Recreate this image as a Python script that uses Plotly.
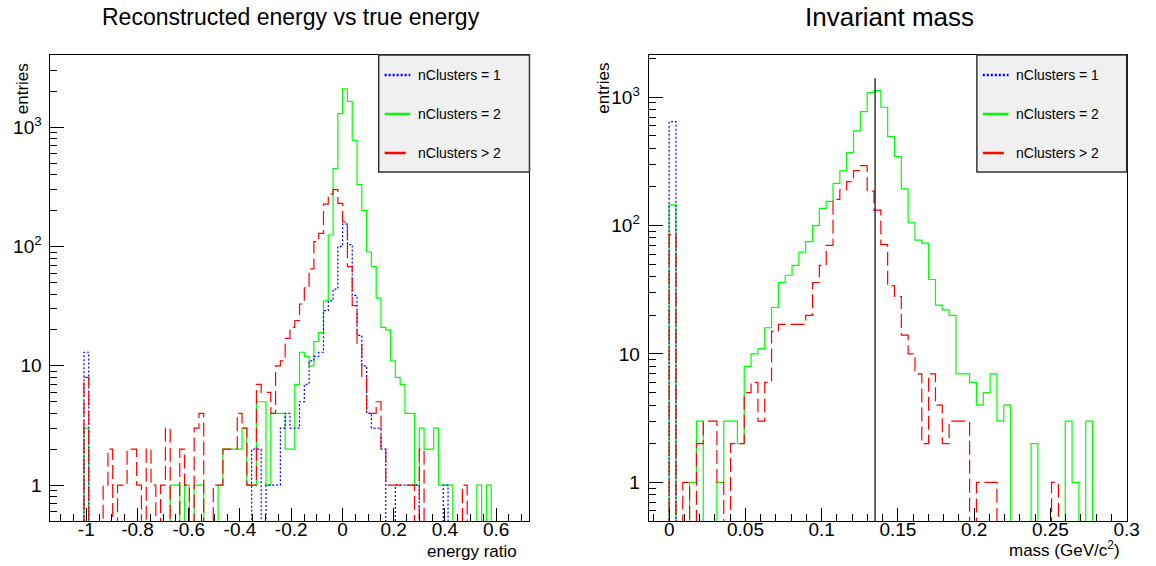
import plotly.graph_objects as go

W, H = 1156, 566

# ---------------- data ----------------
# Energy ratio (reconstructed / true - 1): 100 bins on [-1.14, 0.73]
ENERGY_RANGE = (-1.14, 0.73)
energy_n1 = [0, 0, 0, 0, 0, 0, 0, 13, 0, 0,
             0, 0, 0, 0, 0, 0, 0, 0, 0, 0,
             0, 0, 0, 0, 0, 0, 0, 0, 0, 0,
             0, 0, 0, 0, 0, 0, 0, 0, 0, 0,
             0, 0, 2, 2, 0, 1, 1, 1, 3, 4,
             3, 3, 5, 7, 11, 12, 13, 29, 35, 44,
             100, 154, 104, 39, 18, 10, 4, 3, 3, 2,
             0, 0, 1, 1, 1, 1, 1, 0, 0, 0,
             0, 0, 1, 0, 0, 0, 0, 0, 0, 0,
             0, 0, 0, 0, 0, 0, 0, 0, 0, 0]
energy_n2 = [0, 0, 0, 0, 0, 0, 0, 3, 0, 0,
             0, 0, 0, 0, 0, 0, 0, 0, 0, 0,
             0, 0, 0, 0, 0, 1, 1, 0, 1, 0,
             1, 1, 0, 0, 0, 1, 2, 2, 2, 2,
             3, 1, 1, 5, 5, 1, 4, 4, 4, 2,
             2, 7, 13, 12, 10, 16, 19, 35, 125, 450,
             1300, 2100, 1650, 775, 330, 200, 90, 68, 37, 21,
             20, 11, 8, 7, 4, 4, 1, 3, 2, 2,
             3, 1, 1, 1, 0, 0, 0, 0, 0, 1,
             0, 1, 0, 0, 0, 0, 0, 0, 0, 0]
energy_n3 = [0, 0, 0, 0, 0, 0, 0, 8, 0, 0,
             0, 1, 2, 0, 1, 1, 2, 2, 1, 0,
             2, 1, 0, 1, 3, 0, 0, 2, 1, 0,
             3, 4, 0, 0, 1, 1, 2, 2, 2, 4,
             3, 1, 1, 7, 6, 6, 4, 10, 11, 17,
             21, 24, 33, 45, 65, 110, 129, 227, 275, 300,
             230, 161, 68, 32, 15, 8, 4, 4, 5, 2,
             1, 1, 1, 1, 1, 1, 0, 2, 0, 0,
             0, 0, 0, 0, 0, 0, 1, 0, 0, 0,
             0, 0, 0, 0, 0, 0, 0, 0, 0, 0]

# Invariant mass (GeV/c^2): 70 bins on [-0.0135, 0.3]
MASS_RANGE = (-0.0135, 0.3)
mass_n1 = [0, 0, 0, 645, 0, 0, 0, 0, 0, 0,
           0, 0, 0, 0, 0, 0, 0, 0, 0, 0,
           0, 0, 0, 0, 0, 0, 0, 0, 0, 0,
           0, 0, 0, 0, 0, 0, 0, 0, 0, 0,
           0, 0, 0, 0, 0, 0, 0, 0, 0, 0,
           0, 0, 0, 0, 0, 0, 0, 0, 0, 0,
           0, 0, 0, 0, 0, 0, 0, 0, 0, 0]
mass_n2 = [0, 0, 0, 145, 0, 0, 1, 3, 0, 0,
           1, 3, 3, 2, 8, 10, 11, 16, 23, 36,
           41, 49, 62, 75, 100, 136, 154, 213, 266, 370,
           546, 771, 1084, 1123, 834, 493, 344, 193, 105, 77,
           73, 38, 24, 22, 20, 7, 7, 6, 4, 5,
           7, 3, 4, 0, 0, 0, 2, 0, 0, 0,
           0, 3, 1, 0, 3, 0, 0, 0, 0, 0]
mass_n3 = [0, 0, 0, 85, 0, 1, 0, 2, 3, 3,
           1, 0, 2, 2, 5, 6, 3, 6, 15, 17,
           17, 17, 17, 20, 36, 49, 70, 160, 190, 220,
           268, 293, 185, 132, 71, 34, 28, 14, 10, 7,
           2, 7, 4, 2, 3, 3, 3, 0, 1, 1,
           1, 0, 0, 0, 0, 0, 0, 0, 0, 1,
           0, 0, 0, 0, 0, 0, 0, 0, 0, 0]

PI0_MASS = 0.135
PI0_LINE_Y = [0.5, 1400]

ENERGY_TICKS = [-1, -0.8, -0.6, -0.4, -0.2, 0, 0.2, 0.4, 0.6]
ENERGY_TICK_TEXT = ["-1", "-0.8", "-0.6", "-0.4", "-0.2", "0", "0.2", "0.4", "0.6"]
MASS_TICKS = [0, 0.05, 0.1, 0.15, 0.2, 0.25, 0.3]
MASS_TICK_TEXT = ["0", "0.05", "0.1", "0.15", "0.2", "0.25", "0.3"]
LOG_TICKS = [1, 10, 100, 1000]
LOG_TICK_TEXT = ["1", "10", "10<sup>2</sup>", "10<sup>3</sup>"]
LEGEND_LABELS = ["nClusters = 1", "nClusters = 2", "nClusters > 2"]

# ---------------- style ----------------
FONT = "Liberation Sans, Arial, Helvetica, sans-serif"
STYLES = [dict(color="#0000ff", dash="2px,2px", legend_dash="2px,2px"),
          dict(color="#00ff00", dash="solid", legend_dash="solid"),
          dict(color="#ff0000", dash="14px,5px", legend_dash="21px,12px")]
FLOOR = 0.01  # empty bins drop below the axis (clipped), as in ROOT


def step_xy(rng, counts):
    n = len(counts)
    w = (rng[1] - rng[0]) / n
    xs = [rng[0] + i * w for i in range(n + 1)]
    ys = [c if c > 0 else FLOOR for c in counts]
    return xs, ys + [ys[-1]]


def px_x(px):
    return px / W


def px_y(py):
    return 1 - py / H


fig = go.Figure()

order = [1, 0, 2]  # green drawn first, then blue, then red
for series, rng, xa, ya in [((energy_n1, energy_n2, energy_n3), ENERGY_RANGE, "x", "y"),
                            ((mass_n1, mass_n2, mass_n3), MASS_RANGE, "x2", "y2")]:
    for i in order:
        xs, ys = step_xy(rng, series[i])
        fig.add_trace(go.Scatter(
            x=xs, y=ys, mode="lines", line_shape="hv",
            line=dict(color=STYLES[i]["color"], width=1.2, dash=STYLES[i]["dash"]),
            xaxis=xa, yaxis=ya, showlegend=False, hoverinfo="skip"))

fig.add_trace(go.Scatter(x=[PI0_MASS, PI0_MASS], y=PI0_LINE_Y, mode="lines",
                         line=dict(color="black", width=1.2),
                         xaxis="x2", yaxis="y2", showlegend=False, hoverinfo="skip"))


def minor_vals(lo, hi, step, majors):
    out = []
    k = int(round(lo / step)) - 1
    while k * step <= hi + 1e-9:
        v = round(k * step, 6)
        if lo <= v <= hi and all(abs(v - m) > 1e-9 for m in majors):
            out.append(v)
        k += 1
    return out


log_minor = [m * 10 ** e for e in range(-1, 4) for m in range(2, 10)]

common_x = dict(showline=True, linecolor="black", linewidth=1, mirror=True,
                ticks="inside", ticklen=13, tickwidth=1, tickcolor="black",
                showgrid=False, zeroline=False, tickmode="array",
                tickfont=dict(family=FONT, size=19, color="black"), ticklabelstandoff=-9)
common_y = dict(type="log", showline=True, linecolor="black", linewidth=1, mirror=True,
                ticks="inside", ticklen=14, tickwidth=1, tickcolor="black",
                showgrid=False, zeroline=False, tickmode="array",
                tickvals=LOG_TICKS, ticktext=LOG_TICK_TEXT,
                tickfont=dict(family=FONT, size=19, color="black"), ticklabelstandoff=4,
                minor=dict(ticks="inside", ticklen=7, tickcolor="black", tickwidth=1,
                           tickmode="array", tickvals=log_minor, showgrid=False))

fig.update_layout(
    width=W, height=H, margin=dict(l=0, r=0, t=0, b=0),
    paper_bgcolor="white", plot_bgcolor="white",
    xaxis=dict(common_x, domain=[px_x(51), px_x(535.5)], range=list(ENERGY_RANGE),
               tickvals=ENERGY_TICKS, ticktext=ENERGY_TICK_TEXT, anchor="y",
               minor=dict(ticks="inside", ticklen=7, tickcolor="black", tickwidth=1,
                          tickmode="array", showgrid=False,
                          tickvals=minor_vals(ENERGY_RANGE[0], ENERGY_RANGE[1], 0.05, ENERGY_TICKS))),
    yaxis=dict(common_y, domain=[45 / H, 511 / H], range=[-0.301, 3.606], anchor="x"),
    xaxis2=dict(common_x, domain=[px_x(656), px_x(1139.5)], range=list(MASS_RANGE),
                tickvals=MASS_TICKS, ticktext=MASS_TICK_TEXT, anchor="y2",
                minor=dict(ticks="inside", ticklen=7, tickcolor="black", tickwidth=1,
                           tickmode="array", showgrid=False,
                           tickvals=minor_vals(MASS_RANGE[0], MASS_RANGE[1], 0.01, MASS_TICKS))),
    yaxis2=dict(common_y, domain=[45 / H, 511 / H], range=[-0.301, 3.328], anchor="x2"),
    showlegend=False,
)

annotations = []
shapes = []


def text(x, y, s, size, xanchor="center", yanchor="middle", angle=0):
    annotations.append(dict(x=px_x(x), y=px_y(y), xref="paper", yref="paper", text=s,
                            showarrow=False, xanchor=xanchor, yanchor=yanchor, textangle=angle,
                            font=dict(family=FONT, size=size, color="black")))


text(294, 17, "Reconstructed energy vs true energy", 23)
text(900, 17, "Invariant mass", 26)
text(525, 551, "energy ratio", 17, xanchor="right")
text(1135, 549, "mass (GeV/c<sup>2</sup>)", 17, xanchor="right")
text(23, 61, "entries", 17, yanchor="top", angle=-90)
text(610, 61, "entries", 17, yanchor="top", angle=-90)

# legends
for bx0, bx1, sx0, sx1, tx in [(383, 535.5, 389, 415, 421), (988, 1139.5, 994, 1020, 1026)]:
    shapes.append(dict(type="rect", xref="paper", yref="paper",
                       x0=px_x(bx0), x1=px_x(bx1), y0=px_y(172), y1=px_y(55),
                       fillcolor="#f0f0f0", line=dict(color="#333333", width=1.5), layer="above"))
    for j, (label, row_y) in enumerate(zip(LEGEND_LABELS, [75, 114, 153])):
        st = STYLES[j]
        shapes.append(dict(type="line", xref="paper", yref="paper",
                           x0=px_x(sx0), x1=px_x(sx1), y0=px_y(row_y), y1=px_y(row_y),
                           line=dict(color=st["color"], width=2.5, dash=st["legend_dash"]), layer="above"))
        text(tx, row_y, label, 14, xanchor="left")

fig.update_layout(annotations=annotations, shapes=shapes)
fig.write_html("out.html")
